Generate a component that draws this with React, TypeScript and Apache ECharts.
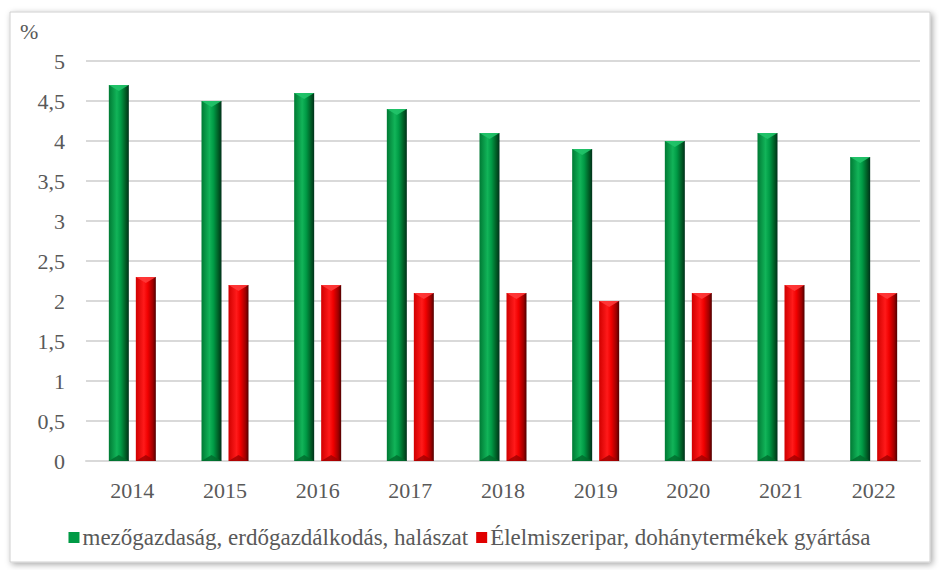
import React, { useEffect, useRef } from "react";
import * as echarts from "echarts";

const years = ["2014", "2015", "2016", "2017", "2018", "2019", "2020", "2021", "2022"];
const agriculture = [4.7, 4.5, 4.6, 4.4, 4.1, 3.9, 4.0, 4.1, 3.8];
const foodIndustry = [2.3, 2.2, 2.2, 2.1, 2.1, 2.0, 2.1, 2.2, 2.1];
const seriesNames = [
  "mezőgazdaság, erdőgazdálkodás, halászat",
  "Élelmiszeripar, dohánytermékek gyártása",
];

const FONT = "Liberation Serif";

const palettes = [
  {
    base: "#009a45",
    top: "#22c46a",
    bottom: "#006a2c",
    grad: [
      { offset: 0, color: "#007a34" },
      { offset: 0.4, color: "#12b459" },
      { offset: 0.6, color: "#009a45" },
      { offset: 0.85, color: "#005a24" },
      { offset: 1, color: "#00301a" },
    ],
  },
  {
    base: "#e00000",
    top: "#ff3a3a",
    bottom: "#a00000",
    grad: [
      { offset: 0, color: "#d00000" },
      { offset: 0.4, color: "#ff1a1a" },
      { offset: 0.6, color: "#f00000" },
      { offset: 0.85, color: "#a00000" },
      { offset: 1, color: "#500000" },
    ],
  },
];

const BAR_W = 20;
const GAP = 7;

function makeRender(si: number) {
  const p = palettes[si];
  return (params: any, api: any) => {
    const idx = api.value(0);
    const val = api.value(1);
    const top = api.coord([idx, val]);
    const base = api.coord([idx, 0]);
    const offset = si === 0 ? -(GAP / 2 + BAR_W / 2) : GAP / 2 + BAR_W / 2;
    const cx = top[0] + offset;
    const x0 = cx - BAR_W / 2;
    const x1 = cx + BAR_W / 2;
    const y0 = top[1];
    const y1 = base[1];
    const bev = 6;
    return {
      type: "group",
      children: [
        {
          type: "rect",
          shape: { x: x0, y: y0, width: BAR_W, height: y1 - y0 },
          style: {
            fill: new echarts.graphic.LinearGradient(0, 0, 1, 0, p.grad),
          },
        },
        {
          type: "polygon",
          shape: { points: [[x0, y0], [x1, y0], [cx, y0 + bev]] },
          style: { fill: p.top, opacity: 0.9 },
        },
        {
          type: "polygon",
          shape: { points: [[x0, y1], [x1, y1], [cx, y1 - bev]] },
          style: { fill: p.bottom, opacity: 0.8 },
        },
      ],
    };
  };
}

export default function App() {
  const ref = useRef<HTMLDivElement>(null);
  useEffect(() => {
    if (!ref.current) return;
    const chart = echarts.init(ref.current, null, { renderer: "svg" });
    chart.setOption({
      animation: false,
      backgroundColor: "#ffffff",
      textStyle: { fontFamily: FONT },
      graphic: [
        {
          type: "rect",
          shape: { x: 10, y: 12, width: 920, height: 550 },
          style: {
            fill: "#ffffff",
            stroke: "#d0d0d0",
            lineWidth: 1,
            shadowBlur: 6,
            shadowOffsetX: 2,
            shadowOffsetY: 2,
            shadowColor: "rgba(0,0,0,0.35)",
          },
          z: -10,
          silent: true,
        },
        {
          type: "text",
          x: 20,
          y: 20,
          style: {
            text: "%",
            fontFamily: FONT,
            fontSize: 22,
            fill: "#595959",
          },
        },
      ],
      grid: { left: 86, right: 19, top: 61, bottom: 109 },
      legend: {
        bottom: 16,
        left: "center",
        itemWidth: 11,
        itemHeight: 11,
        itemGap: 8,
        textStyle: { fontFamily: FONT, fontSize: 23, color: "#595959", padding: [0, 0, 0, -2] },
        data: [
          { name: seriesNames[0], icon: "rect", itemStyle: { color: palettes[0].base } },
          { name: seriesNames[1], icon: "rect", itemStyle: { color: palettes[1].base } },
        ],
      },
      xAxis: {
        type: "category",
        data: years,
        axisLine: { show: true, lineStyle: { color: "#d9d9d9", width: 2 } },
        axisTick: { show: false },
        axisLabel: { color: "#595959", fontSize: 22, fontFamily: FONT, margin: 18 },
      },
      yAxis: {
        type: "value",
        min: 0,
        max: 5,
        interval: 0.5,
        axisLine: { show: false },
        axisTick: { show: false },
        splitLine: { lineStyle: { color: "#d9d9d9", width: 2 } },
        axisLabel: {
          color: "#595959",
          fontSize: 22,
          fontFamily: FONT,
          margin: 21,
          formatter: (v: number) => String(v).replace(".", ","),
        },
      },
      series: [
        {
          name: seriesNames[0],
          type: "custom",
          renderItem: makeRender(0),
          encode: { x: 0, y: 1 },
          itemStyle: { color: palettes[0].base },
          data: agriculture.map((v, i) => [i, v]),
          z: 3,
        },
        {
          name: seriesNames[1],
          type: "custom",
          renderItem: makeRender(1),
          encode: { x: 0, y: 1 },
          itemStyle: { color: palettes[1].base },
          data: foodIndustry.map((v, i) => [i, v]),
          z: 3,
        },
      ],
    });
    return () => chart.dispose();
  }, []);
  return (
    <div
      ref={ref}
      style={{ position: "fixed", left: 0, top: 0, width: 939, height: 570 }}
    />
  );
}
